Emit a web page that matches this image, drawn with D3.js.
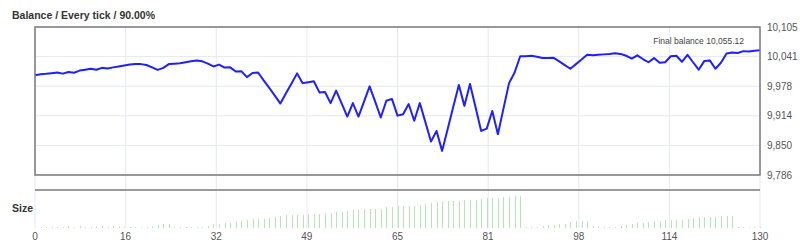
<!DOCTYPE html>
<html>
<head>
<meta charset="utf-8">
<script src="https://cdn.jsdelivr.net/npm/d3@7"></script>
<style>
    body { margin: 0; background: #fff; }
    svg { display: block; font-family: "Liberation Sans", Arial, sans-serif; }
</style>
</head>
<body>
<svg id="canvas" width="800" height="250"></svg>
<script>
// Balance after each trade (index 0 = start)
let balance = [
    10001, 10003, 10004, 10005.5, 10007, 10004.5, 10008, 10006.5, 10011, 10013,
    10015, 10013, 10017, 10015.5, 10018, 10020, 10022, 10024, 10025, 10025,
    10023, 10018, 10012.5, 10017, 10025, 10026, 10027, 10029, 10031, 10032.6,
    10031, 10026, 10020, 10024, 10017.5, 10018, 10009, 10009.5, 9997, 10006,
    10007, 9990, 9974, 9957, 9940, 9962, 9983, 10005, 9984, 9986,
    9988, 9964, 9965, 9941, 9968, 9940, 9912, 9941, 9912, 9944,
    9977, 9944, 9910, 9946, 9950, 9914, 9917, 9939, 9903, 9941,
    9900, 9858, 9881, 9838, 9885, 9933, 9980, 9935, 9982, 9932,
    9881, 9886, 9924, 9874, 9929, 9984, 10007, 10042, 10042, 10043,
    10041, 10038, 10038, 10038.5, 10031, 10023, 10015, 10025, 10035, 10045,
    10044, 10045, 10046, 10047, 10048.5, 10047, 10043, 10037, 10044, 10036,
    10029, 10038, 10028, 10029, 10042, 10043, 10030, 10045, 10029, 10013,
    10031.5, 10033, 10015, 10028, 10048, 10050, 10049, 10053, 10052, 10054,
    10055.12
];

// Lot size of each trade (trade 1..130)
let sizes = [
    0.01, 0.01, 0.01, 0.01, 0.01, 0.02, 0.01, 0.02, 0.01, 0.01,
    0.01, 0.02, 0.01, 0.02, 0.01, 0.01, 0.01, 0.01, 0.01, 0.01,
    0.02, 0.03, 0.04, 0.04, 0.01, 0.01, 0.01, 0.01, 0.01, 0.01,
    0.02, 0.04, 0.04, 0.05, 0.05, 0.07, 0.07, 0.08, 0.09, 0.09,
    0.09, 0.10, 0.11, 0.12, 0.13, 0.13, 0.13, 0.13, 0.14, 0.14,
    0.14, 0.15, 0.15, 0.16, 0.16, 0.17, 0.18, 0.18, 0.19, 0.19,
    0.19, 0.19, 0.21, 0.21, 0.22, 0.22, 0.22, 0.22, 0.23, 0.24,
    0.25, 0.26, 0.27, 0.27, 0.27, 0.27, 0.28, 0.28, 0.28, 0.29,
    0.30, 0.30, 0.30, 0.31, 0.31, 0.32, 0.32, 0.01, 0.01, 0.01,
    0.02, 0.03, 0.03, 0.04, 0.04, 0.06, 0.07, 0.07, 0.07, 0.02,
    0.01, 0.01, 0.01, 0.01, 0.02, 0.03, 0.04, 0.05, 0.05, 0.06,
    0.07, 0.07, 0.08, 0.08, 0.08, 0.08, 0.09, 0.10, 0.11, 0.11,
    0.11, 0.11, 0.12, 0.12, 0.12, 0.01, 0.01, 0.01, 0.01, 0.01
];

// Axis ticks
let xTicks = [0, 16.25, 32.5, 48.75, 65, 81.25, 97.5, 113.75, 130];
let xTickLabels = ['0', '16', '32', '49', '65', '81', '98', '114', '130'];
let yTicks = [9786, 9849.8, 9913.6, 9977.4, 10041.2, 10105];
let yTickLabels = ['9,786', '9,850', '9,914', '9,978', '10,041', '10,105'];

let title = 'Balance / Every tick / 90.00%';
let finalLabel = 'Final balance 10,055.12';

let canvas = d3.select('#canvas');

// Scales
let x = d3.scaleLinear().domain([0, 130]).range([35, 760]);
let y = d3.scaleLinear().domain([9786, 10105]).range([175, 27]);
let ySize = d3.scaleLinear().domain([0, 0.38]).range([228, 190]);

let gridColor = '#e6e8f1';
let frameColor = '#7a7a7a';

// Grid: vertical lines run through both panels
canvas.append('g')
    .selectAll('line')
    .data(xTicks)
    .enter()
    .append('line')
    .attr('x1', (d) => x(d)).attr('x2', (d) => x(d))
    .attr('y1', y.range()[1]).attr('y2', ySize.range()[0])
    .attr('stroke', gridColor)
    .attr('stroke-width', 1);

canvas.append('g')
    .selectAll('line')
    .data(yTicks)
    .enter()
    .append('line')
    .attr('x1', x.range()[0]).attr('x2', x.range()[1])
    .attr('y1', (d) => y(d)).attr('y2', (d) => y(d))
    .attr('stroke', gridColor)
    .attr('stroke-width', 1);

// Size bars
canvas.append('g')
    .selectAll('line')
    .data(sizes)
    .enter()
    .append('line')
    .attr('x1', (d, i) => Math.round(x(i + 1)) + 0.5)
    .attr('x2', (d, i) => Math.round(x(i + 1)) + 0.5)
    .attr('y1', ySize(0))
    .attr('y2', (d) => ySize(d))
    .attr('stroke', '#b3e7b3')
    .attr('stroke-width', 1);

// Balance line
let line = d3.line()
    .x((d, i) => x(i))
    .y((d) => y(d));

canvas.append('path')
    .datum(balance)
    .attr('d', line)
    .attr('fill', 'none')
    .attr('stroke', '#1f1fff')
    .attr('stroke-width', 2)
    .attr('stroke-linejoin', 'round');

// Frame of the main panel and top rule of the size panel
canvas.append('rect')
    .attr('x', x.range()[0]).attr('y', y.range()[1])
    .attr('width', x.range()[1] - x.range()[0])
    .attr('height', y.range()[0] - y.range()[1])
    .attr('fill', 'none')
    .attr('stroke', frameColor)
    .attr('stroke-width', 1.5);

canvas.append('line')
    .attr('x1', x.range()[0]).attr('x2', x.range()[1])
    .attr('y1', ySize.range()[1]).attr('y2', ySize.range()[1])
    .attr('stroke', frameColor)
    .attr('stroke-width', 1.5);

// Y axis labels on the right
canvas.append('g')
    .selectAll('text')
    .data(yTicks)
    .enter()
    .append('text')
    .attr('x', x.range()[1] + 7)
    .attr('y', (d) => y(d) + 3.5)
    .attr('font-size', 10)
    .attr('fill', '#555')
    .text((d, i) => yTickLabels[i]);

// X axis labels
canvas.append('g')
    .selectAll('text')
    .data(xTicks)
    .enter()
    .append('text')
    .attr('x', (d) => x(d))
    .attr('y', 240)
    .attr('text-anchor', 'middle')
    .attr('font-size', 10)
    .attr('fill', '#555')
    .text((d, i) => xTickLabels[i]);

// Titles
canvas.append('text')
    .attr('x', 12).attr('y', 19)
    .attr('font-size', 10.5)
    .attr('font-weight', 'bold')
    .attr('fill', '#333')
    .text(title);

canvas.append('text')
    .attr('x', 12).attr('y', 212)
    .attr('font-size', 10.5)
    .attr('font-weight', 'bold')
    .attr('fill', '#333')
    .text('Size');

canvas.append('text')
    .attr('x', 744).attr('y', 44)
    .attr('text-anchor', 'end')
    .attr('font-size', 8.5)
    .attr('fill', '#444')
    .text(finalLabel);
</script>
</body>
</html>
